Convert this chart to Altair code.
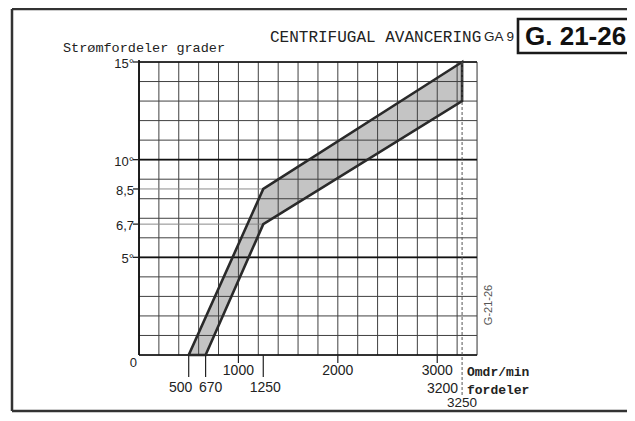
import altair as alt
import pandas as pd

# ---- data ----
band_rpm = [500, 1250, 3250, 3250, 1250, 670, 500]
band_deg = [0, 8.5, 15, 13, 6.7, 0, 0]

grid_rpm = list(range(0, 3401, 200))
grid_deg = list(range(0, 16))
major_deg = [5, 10]
ref_deg = [6.7, 8.5]
ref_rpm_end = 1250

ytick_vals = [15, 10, 8.5, 6.7, 5]
ytick_text = ["15°", "10°", "8,5", "6,7", "5°"]

xrow1_vals = [1000, 2000, 3000]
xrow1_text = ["1000", "2000", "3000"]
xrow2_vals = [500, 670, 1250]
xrow2_text = ["500", "670", "1250"]
xrow2_dx = [-8, 5, 2]
x_limit = 3250

W, H = 338, 293
MONO = "Liberation Mono"
SANS = "Liberation Sans"
INK = "#222222"

xs = alt.Scale(domain=[0, 3400], nice=False, zero=False)
ys = alt.Scale(domain=[0, 15], nice=False)

band_df = pd.DataFrame({"rpm": band_rpm, "deg": band_deg, "i": list(range(len(band_rpm)))})

band_fill = alt.Chart(band_df).mark_line(
    fill="#c4c4c4", stroke="#c4c4c4", strokeWidth=0.5
).encode(
    x=alt.X("rpm:Q", scale=xs, axis=None),
    y=alt.Y("deg:Q", scale=ys, axis=None),
    order="i:Q",
)

band_line = alt.Chart(band_df).mark_line(
    stroke="#2a2a2a", strokeWidth=2.6, strokeJoin="miter"
).encode(
    x=alt.X("rpm:Q", scale=xs, axis=None),
    y=alt.Y("deg:Q", scale=ys, axis=None),
    order="i:Q",
)

vgrid = alt.Chart(pd.DataFrame({"rpm": grid_rpm})).mark_rule(
    color="#404040", strokeWidth=1
).encode(x=alt.X("rpm:Q", scale=xs, axis=None), y=alt.value(0), y2=alt.value(H))

hgrid = alt.Chart(pd.DataFrame({"deg": grid_deg})).mark_rule(
    color="#404040", strokeWidth=1
).encode(y=alt.Y("deg:Q", scale=ys, axis=None), x=alt.value(0), x2=alt.value(W))

hmajor = alt.Chart(pd.DataFrame({"deg": major_deg + [0, 15]})).mark_rule(
    color="#111111", strokeWidth=1.6
).encode(y=alt.Y("deg:Q", scale=ys, axis=None), x=alt.value(0), x2=alt.value(W))

left_axis = alt.Chart(pd.DataFrame({"rpm": [0]})).mark_rule(
    color="#111111", strokeWidth=1.8
).encode(x=alt.X("rpm:Q", scale=xs, axis=None), y=alt.value(-2), y2=alt.value(H))

ref_df = pd.DataFrame({"deg": ref_deg, "r0": [0, 0], "r1": [ref_rpm_end, ref_rpm_end]})
ref_lines = alt.Chart(ref_df).mark_rule(color="#8a8a8a", strokeWidth=1).encode(
    y=alt.Y("deg:Q", scale=ys, axis=None),
    x=alt.X("r0:Q", scale=xs, axis=None),
    x2="r1:Q",
)

ytick_df = pd.DataFrame({"v": ytick_vals, "t": ytick_text})
yticks = alt.Chart(ytick_df).mark_rule(color=INK, strokeWidth=1.3).encode(
    y=alt.Y("v:Q", scale=ys, axis=None), x=alt.value(-6), x2=alt.value(0)
)
ylabels = alt.Chart(ytick_df).mark_text(
    align="right", baseline="middle", font=SANS, fontSize=13, color=INK, dx=-5, dy=2
).encode(y=alt.Y("v:Q", scale=ys, axis=None), x=alt.value(0), text="t:N")

zero_lbl = alt.Chart(pd.DataFrame({"rpm": [0], "deg": [0], "t": ["0"]})).mark_text(
    align="right", baseline="middle", font=SANS, fontSize=13, color=INK, dx=-2, dy=8
).encode(x=alt.X("rpm:Q", scale=xs, axis=None), y=alt.Y("deg:Q", scale=ys, axis=None), text="t:N")

row1_df = pd.DataFrame({"rpm": xrow1_vals, "t": xrow1_text})
row1_ticks = alt.Chart(row1_df).mark_rule(color=INK, strokeWidth=1.2).encode(
    x=alt.X("rpm:Q", scale=xs, axis=None), y=alt.value(H), y2=alt.value(H + 8)
)
row1_lbl = alt.Chart(row1_df).mark_text(
    align="center", baseline="middle", font=SANS, fontSize=14, color=INK
).encode(x=alt.X("rpm:Q", scale=xs, axis=None), y=alt.value(H + 16), text="t:N")

row2_df = pd.DataFrame({"rpm": xrow2_vals, "t": xrow2_text})
row2_ticks = alt.Chart(row2_df).mark_rule(color=INK, strokeWidth=1.2).encode(
    x=alt.X("rpm:Q", scale=xs, axis=None), y=alt.value(H), y2=alt.value(H + 22)
)
row2_lbls = []
for v, t, d in zip(xrow2_vals, xrow2_text, xrow2_dx):
    row2_lbls.append(
        alt.Chart(pd.DataFrame({"rpm": [v], "t": [t]})).mark_text(
            align="center", baseline="middle", font=SANS, fontSize=14, color=INK, dx=d
        ).encode(x=alt.X("rpm:Q", scale=xs, axis=None), y=alt.value(H + 33), text="t:N")
    )

lim_df = pd.DataFrame({"rpm": [x_limit]})
lim_line = alt.Chart(lim_df).mark_rule(color="#555555", strokeWidth=1, strokeDash=[3, 2]).encode(
    x=alt.X("rpm:Q", scale=xs, axis=None), y=alt.value(0), y2=alt.value(H + 40)
)
lim_3200 = alt.Chart(lim_df).mark_text(
    align="right", baseline="middle", font=SANS, fontSize=14, color=INK, dx=-4, text="3200"
).encode(x=alt.X("rpm:Q", scale=xs, axis=None), y=alt.value(H + 34))
lim_3250 = alt.Chart(lim_df).mark_text(
    align="center", baseline="middle", font=SANS, fontSize=13.5, color=INK, text="3250"
).encode(x=alt.X("rpm:Q", scale=xs, axis=None), y=alt.value(H + 48))


def txt(s, x, y, **kw):
    return alt.Chart(pd.DataFrame({"a": [0]})).mark_text(text=s, **kw).encode(
        x=alt.value(x), y=alt.value(y)
    )


title1 = txt("CENTRIFUGAL AVANCERING", 131, -25, align="left", baseline="middle",
             font=MONO, fontSize=16, color=INK)
title2 = txt("GA 9", 345, -25, align="left", baseline="middle", font=SANS, fontSize=13.5,
             color=INK)
box = alt.Chart(pd.DataFrame({"a": [0]})).mark_rect(
    fill="white", stroke="#1a1a1a", strokeWidth=2.6
).encode(x=alt.value(379), x2=alt.value(500), y=alt.value(-43), y2=alt.value(-9))
box_txt = txt("G. 21-26", 386, -25, align="left", baseline="middle", font=SANS,
              fontSize=26, fontWeight="bold", color="#111111")
ytitle = txt("Strømfordeler grader", -76, -14, align="left", baseline="middle",
             font=MONO, fontSize=13.5, color=INK)
xt1 = txt("Omdr/min", 328, H + 17, align="left", baseline="middle", font=MONO,
          fontSize=13, fontWeight="bold", color=INK)
xt2 = txt("fordeler", 328, H + 35, align="left", baseline="middle", font=MONO,
          fontSize=13, fontWeight="bold", color=INK)
side = txt("G-21-26", 350, 243, align="center", baseline="middle", font=SANS,
           fontSize=11, color="#555555", angle=270)

frame_l = alt.Chart(pd.DataFrame({"a": [0]})).mark_rule(color="#333333", strokeWidth=2.5).encode(
    x=alt.value(-127), y=alt.value(-53), y2=alt.value(349))
frame_t = alt.Chart(pd.DataFrame({"a": [0]})).mark_rule(color="#333333", strokeWidth=2.5).encode(
    x=alt.value(-127), x2=alt.value(500), y=alt.value(-53))
frame_b = alt.Chart(pd.DataFrame({"a": [0]})).mark_rule(color="#333333", strokeWidth=2.5).encode(
    x=alt.value(-127), x2=alt.value(500), y=alt.value(349))

chart = alt.layer(
    band_fill, vgrid, hgrid, ref_lines, hmajor, left_axis, band_line,
    yticks, ylabels, zero_lbl,
    row1_ticks, row1_lbl, row2_ticks, *row2_lbls, lim_line, lim_3200, lim_3250,
    title1, title2, box, box_txt, ytitle, xt1, xt2, side,
    frame_l, frame_t, frame_b,
).properties(
    width=W, height=H,
    padding={"left": 131, "top": 54, "right": 150, "bottom": 58},
    autosize=alt.AutoSizeParams(type="none"),
).configure_view(stroke=None).configure(background="white")

chart.save("out.html", embed_options={"renderer": "svg", "actions": False})
